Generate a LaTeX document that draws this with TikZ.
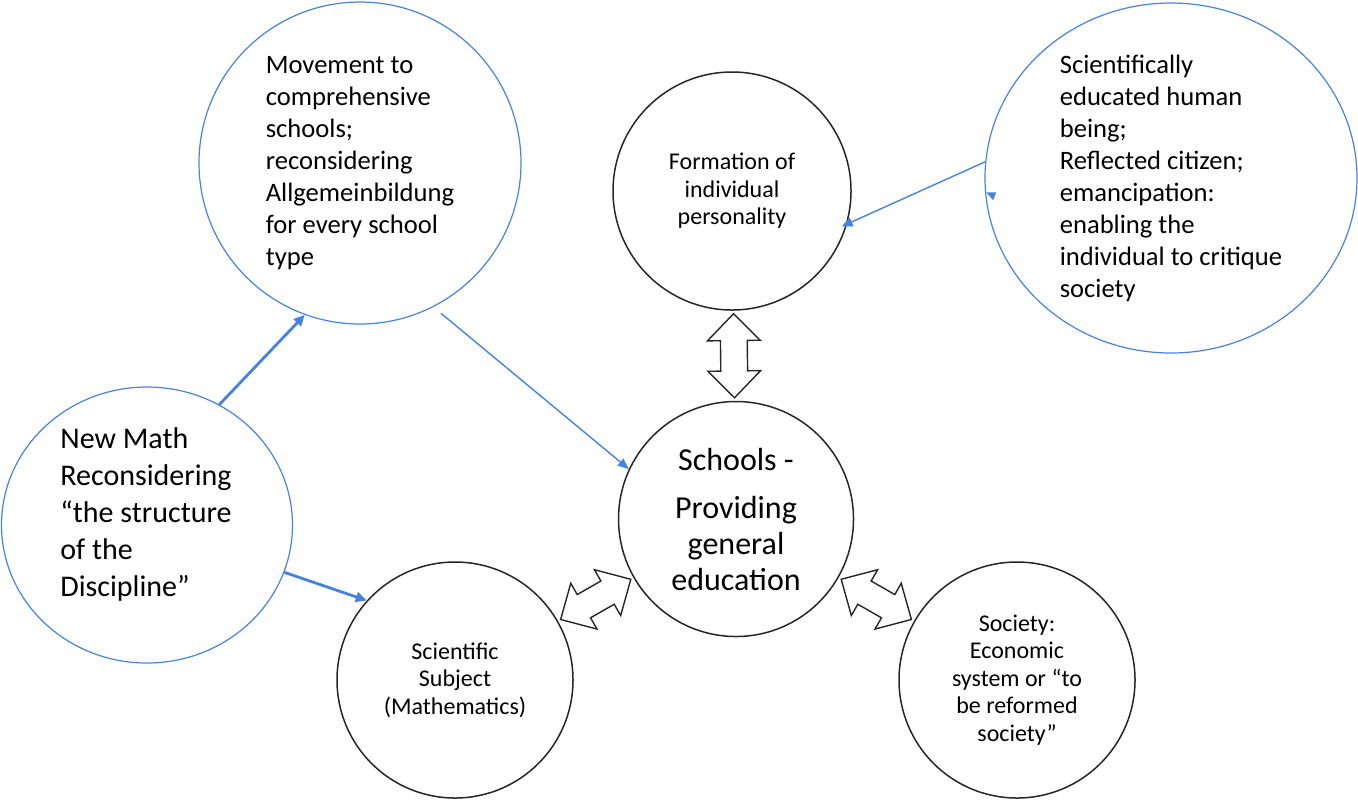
\documentclass[tikz,border=0pt]{standalone}
\usepackage{fontspec}
\setmainfont{Carlito}
\usetikzlibrary{calc,arrows.meta,shapes.geometric}
\definecolor{eduBlue}{RGB}{70,130,225}
\tikzset{
  bluecirc/.style={draw=eduBlue, line width=0.6pt, inner sep=0pt},
  blackcirc/.style={circle, draw=black!85, line width=0.75pt, inner sep=0pt, align=center, font=\fontsize{12}{13.75}\selectfont},
  thickarr/.style={draw=eduBlue, line width=1.4pt, -{Triangle[length=5.5pt,width=5pt]}},
  thinarr/.style={draw=eduBlue, line width=0.7pt, -{Triangle[length=5.5pt,width=4.5pt]}},
  hollow/.style={draw=black!85, line width=0.7pt, fill=white, line join=miter},
}
% hollow double arrow between two circles
\newcommand{\dblarrow}[2]{%
  \path (#1) -- (#2) coordinate[pos=0] (da1) coordinate[pos=1] (da2);
  \coordinate (ta) at ($(da1)!1.5pt!(da2)$);
  \coordinate (tb) at ($(da2)!1.5pt!(da1)$);
  \coordinate (ha) at ($(ta)!13.4pt!(tb)$);
  \coordinate (hb) at ($(tb)!13.4pt!(ta)$);
  \draw[hollow] (ta) -- ($(ha)!13.2pt!90:(tb)$) -- ($(ha)!6.7pt!90:(tb)$)
    -- ($(hb)!6.7pt!-90:(ta)$) -- ($(hb)!13.2pt!-90:(ta)$) -- (tb)
    -- ($(hb)!13.2pt!90:(ta)$) -- ($(hb)!6.7pt!90:(ta)$)
    -- ($(ha)!6.7pt!-90:(tb)$) -- ($(ha)!13.2pt!-90:(tb)$) -- cycle;}

\begin{document}
\begin{tikzpicture}[x=0.5pt,y=-0.5pt]
\useasboundingbox (0,0) rectangle (1358,800);
% blue circles
\node[bluecirc, circle, minimum size=161pt, align=left, font=\fontsize{13.3}{16}\selectfont] (move) at (360,163)
  {Movement to\\comprehensive\\schools;\\reconsidering\\Allgemeinbildung\\for every school\\type};
\node[bluecirc, ellipse, minimum width=186pt, minimum height=175pt, align=left, font=\fontsize{13.3}{16}\selectfont] (human) at (1171,178)
  {Scientifically\\educated human\\being;\\Reflected citizen;\\emancipation:\\enabling the\\individual to critique\\society};
\node[bluecirc, ellipse, minimum width=145.5pt, minimum height=138pt] (newmath) at (147,525) {};
\node[align=left, font=\fontsize{15}{18.5}\selectfont] (newmathtxt) at (146,514)
  {New Math\\Reconsidering\\“the structure\\of the\\Discipline”};
% black circles
\node[blackcirc, minimum size=119pt] (form) at (732,191) {Formation of\\individual\\personality};
\node[blackcirc, minimum size=117.5pt, font=\fontsize{16}{18}\selectfont] (sch) at (736,519)
  {Schools -\\[6pt]Providing\\general\\education};
\node[blackcirc, minimum size=118pt] (sci) at (455,680) {Scientific\\Subject\\(Mathematics)};
\node[blackcirc, minimum size=118pt] (soc) at (1017,680) {Society:\\Economic\\system or “to\\be reformed\\society”};
% blue arrows
\draw[thickarr] (newmath.59) -- (move.250);
\draw[thickarr] (newmath.-19) -- (sci.138);
\draw[thinarr, shorten <=5pt] (move.-63) -- (sch.155);
\draw[thinarr] (human.175) -- ($(form.-16)!-3pt!(human.175)$);
\fill[eduBlue] (human.185) ++(1,-2) -- ++(10,0) -- ++(-3,8) -- cycle;
% double arrows
\dblarrow{form}{sch}
\dblarrow{sci}{sch}
\dblarrow{sch}{soc}
\end{tikzpicture}
\end{document}
